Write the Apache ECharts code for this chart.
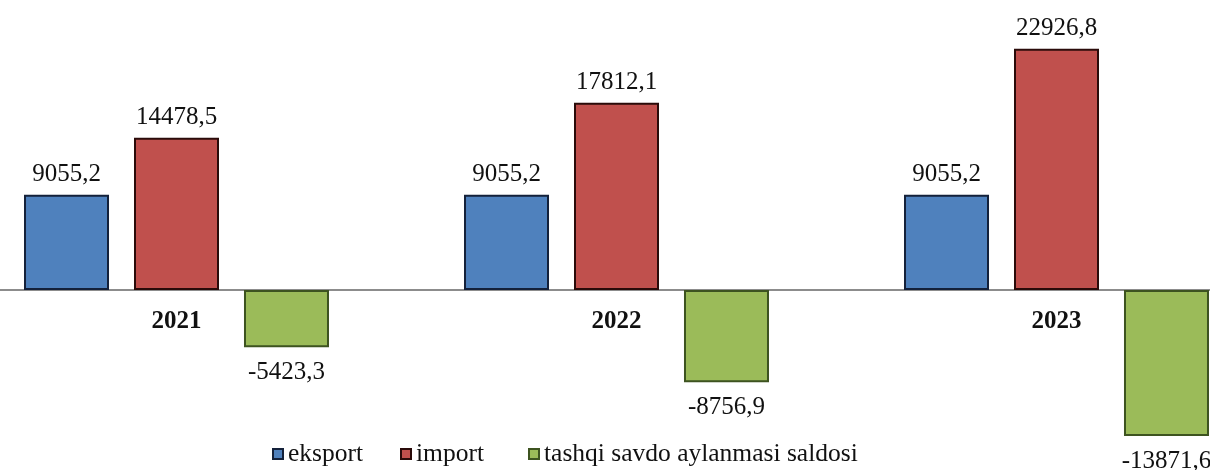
<!DOCTYPE html>
<html>
<head>
<meta charset="utf-8">
<script src="https://cdn.jsdelivr.net/npm/echarts@6/dist/echarts.min.js"></script>
<style>
  html, body { margin: 0; padding: 0; background: #fff; }
  #chart { width: 1210px; height: 470px; }
</style>
</head>
<body>
<div id="chart"></div>
<script>
const years = ['2021', '2022', '2023']
const eksport = [9055.2, 9055.2, 9055.2]
const importData = [14478.5, 17812.1, 22926.8]
const saldo = [-5423.3, -8756.9, -13871.6]

const serif = 'Liberation Serif, Times New Roman, serif'

// 9055.2 -> "9055,2"
function fmt(p) {
  return p.value.toFixed(1).replace('.', ',')
}

function labelCfg(pos, dist) {
  return {
    show: true,
    position: pos,
    distance: dist,
    formatter: fmt,
    fontFamily: serif,
    fontSize: 25,
    color: '#111'
  }
}

function legendCfg(name, left) {
  return {
    data: [name],
    left: left,
    top: 436,
    icon: 'rect',
    itemWidth: 10,
    itemHeight: 10,
    textStyle: { fontFamily: serif, fontSize: 25.5, color: '#111' }
  }
}

const chart = echarts.init(document.getElementById('chart'))

chart.setOption({
  animation: false,
  grid: {
    left: -43.5,
    width: 1320,
    top: 6,
    height: 463,
    containLabel: false,
    outerBoundsMode: 'none'
  },
  legend: [
    legendCfg('eksport', 267),
    legendCfg('import', 395),
    legendCfg('tashqi savdo aylanmasi saldosi', 523)
  ],
  xAxis: {
    type: 'category',
    data: years,
    offset: -178.9, // sit the axis on the zero line, labels included
    axisTick: { show: false },
    axisLine: {
      onZero: false,
      lineStyle: { color: '#8c8c8c', width: 2 }
    },
    axisLabel: {
      margin: 19,
      fontFamily: serif,
      fontSize: 25,
      fontWeight: 'bold',
      color: '#111'
    }
  },
  yAxis: {
    type: 'value',
    min: -17000,
    max: 27000,
    interval: 1000,
    show: false,
    splitLine: { show: false }
  },
  series: [
    {
      name: 'eksport',
      type: 'bar',
      data: eksport,
      barWidth: 85,
      barGap: '29.4%',
      itemStyle: { color: '#4f81bd', borderColor: '#14213a', borderWidth: 2 },
      label: labelCfg('top', 8)
    },
    {
      name: 'import',
      type: 'bar',
      data: importData,
      barWidth: 85,
      barGap: '29.4%',
      itemStyle: { color: '#c0504d', borderColor: '#2a0b0a', borderWidth: 2 },
      label: labelCfg('top', 8)
    },
    {
      name: 'tashqi savdo aylanmasi saldosi',
      type: 'bar',
      data: saldo,
      barWidth: 85,
      barGap: '29.4%',
      itemStyle: { color: '#9bbb59', borderColor: '#3d5320', borderWidth: 2 },
      label: labelCfg('bottom', 13)
    }
  ]
})
</script>
</body>
</html>
